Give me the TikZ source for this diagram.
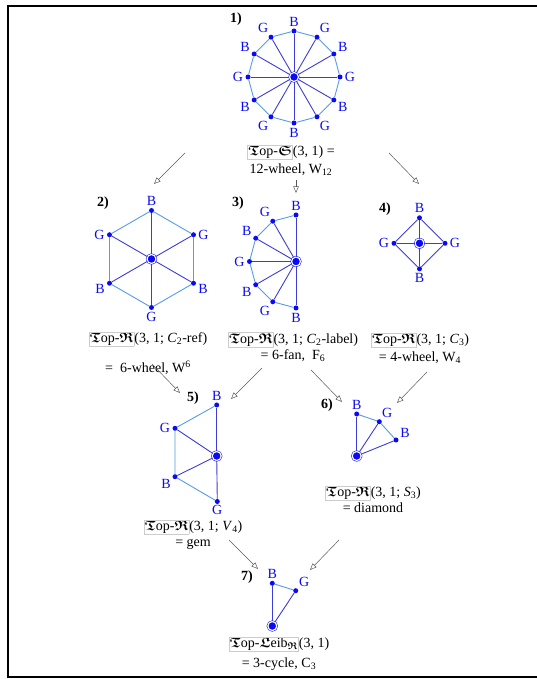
\documentclass[tikz,border=0pt]{standalone}
\usepackage{amsmath,amssymb}
\usepackage{fontspec}
\setmainfont{Liberation Serif}
\usetikzlibrary{arrows,positioning}

\definecolor{vtxblue}{RGB}{10,10,245}
\definecolor{spokeblue}{RGB}{60,60,215}
\definecolor{rimblue}{RGB}{85,155,230}
\newcommand{\frk}[1]{$\boldsymbol{\mathfrak{#1}}$}
\newcommand{\topbox}[1]{{\setlength{\fboxsep}{0.6pt}\setlength{\fboxrule}{0.5pt}\fcolorbox{gray!40}{white}{#1}}}

\begin{document}
\begin{tikzpicture}[
    x=1pt, y=1pt,
    vtx/.style={circle, fill=vtxblue, inner sep=0pt, minimum size=5pt},
    hub/.style={circle, fill=vtxblue, draw=vtxblue, inner sep=0pt, minimum size=9pt,
        line width=0.5pt, double=white, double distance=1.2pt},
    lbl/.style={text=vtxblue, font=\fontsize{14}{16}\selectfont, inner sep=0.5pt},
    every label/.style={lbl},
    label distance=1.5pt,
    spoke/.style={draw=spokeblue, line width=0.9pt},
    rim/.style={draw=rimblue, line width=0.9pt},
    num/.style={font=\fontsize{14}{16}\selectfont\bfseries},
    capt/.style={font=\fontsize{14}{16}\selectfont, align=center, inner sep=0pt},
    arr/.style={-open triangle 45, draw=black!65, line width=0.5pt}
]
\useasboundingbox (0,0) rectangle (537,679);
\draw[line width=1.1pt] (545,673) -- (8,673) -- (8,2) -- (545,2);

% 1) 12-wheel
\node[hub] (h1) at (294,602) {};
\foreach \i in {0,...,11}{
  \pgfmathsetmacro\ang{90-30*\i}
  \ifodd\i\relax\def\lab{G}\else\def\lab{B}\fi
  \node[vtx, label=\ang:\lab] (w\i) at ([shift={(\ang:46)}]h1) {};
}
\foreach \i in {0,...,11}{
  \pgfmathtruncatemacro\j{mod(\i+1,12)}
  \draw[rim] (w\i) -- (w\j);
  \draw[spoke] (h1) -- (w\i);
}
\node[num] (n1) at (236,660) {1)};
\node[capt] (c1) at (291,519) {\topbox{\frk{T}op-\frk{S}}(3, 1) =\\[2pt]12-wheel, W\textsubscript{12}};

% 2) 6-wheel
\node[hub] (h2) at (151.5,420) {};
\foreach \ang/\la/\lab [count=\i] in {90/90/B, 30/0/G, -30/-10/B, -90/-90/G, -150/190/B, 150/180/G}
  \node[vtx, label=\la:\lab] (x\i) at ([shift={(\ang:48.5)}]h2) {};
\foreach \i in {1,...,6}{
  \pgfmathtruncatemacro\j{mod(\i,6)+1}
  \draw[rim] (x\i) -- (x\j);
  \draw[spoke] (h2) -- (x\i);
}
\node[num] (n2) at (103,476) {2)};
\node[capt] (c2) at (148,326) {\topbox{\frk{T}op-\frk{R}}(3, 1; \textit{C}\textsubscript{2}-ref)\\[14pt]=\ \ 6-wheel, W\textsuperscript{6}};

% 3) 6-fan
\node[hub] (h3) at (296,417.5) {};
\foreach \ang/\lab [count=\i] in {90/B, 120/G, 150/B, 180/G, 210/B, 240/G, 270/B}
  \node[vtx, label=\ang:\lab] (f\i) at ([shift={(\ang:46.5)}]h3) {};
\foreach \i in {1,...,6}{
  \pgfmathtruncatemacro\j{\i+1}
  \draw[rim] (f\i) -- (f\j);
}
\foreach \i in {1,...,7} \draw[spoke] (h3) -- (f\i);
\node[num] (n3) at (238,476) {3)};
\node[capt] (c3) at (293,332) {\topbox{\frk{T}op-\frk{R}}(3, 1; \textit{C}\textsubscript{2}-label)\\= 6-fan,\ \ F\textsubscript{6}};

% 4) 4-wheel
\node[hub] (h4) at (419.5,435.7) {};
\foreach \ang/\lab [count=\i] in {90/B, 0/G, -90/B, 180/G}
  \node[vtx, label=\ang:\lab] (d\i) at ([shift={(\ang:25.5)}]h4) {};
\draw[spoke] (d1) -- (d2) -- (d3) -- (d4) -- (d1);
\foreach \i in {1,...,4} \draw[spoke] (h4) -- (d\i);
\node[num] (n4) at (385,470) {4)};
\node[capt] (c4) at (420,330.5) {\topbox{\frk{T}op-\frk{R}}(3, 1; \textit{C}\textsubscript{3})\\[2pt]= 4-wheel, W\textsubscript{4}};

% 5) gem
\node[hub] (h5) at (216.7,223) {};
\node[vtx, label=90:B] (g1) at (216.7,274) {};
\node[vtx, label=180:G] (g2) at (175,250.7) {};
\node[vtx, label=210:B] (g3) at (175,202.3) {};
\node[vtx, label={[label distance=0.3pt]-90:G}] (g4) at (217.3,177.5) {};
\draw[rim] (g1) -- (g2) -- (g3) -- (g4);
\foreach \i in {1,...,4} \draw[spoke] (h5) -- (g\i);
\node[num] (n5) at (193,281) {5)};
\node[capt] (c5) at (193,144.5) {\topbox{\frk{T}op-\frk{R}}(3, 1; \textit{V}\textsubscript{4})\\= gem};

% 6) diamond
\node[hub] (h6) at (356.7,223) {};
\node[vtx, label=90:B] (s1) at (356.7,265) {};
\node[vtx, label=58:G] (s2) at (379.3,257.3) {};
\node[vtx, label=32:B] (s3) at (396,239) {};
\draw[rim] (s1) -- (s2) -- (s3);
\foreach \i in {1,2,3} \draw[spoke] (h6) -- (s\i);
\node[num] (n6) at (327,274) {6)};
\node[capt] (c6) at (373,180) {\topbox{\frk{T}op-\frk{R}}(3, 1; \textit{S}\textsubscript{3})\\= diamond};

% 7) 3-cycle
\node[hub] (h7) at (272.3,53) {};
\node[vtx, label=90:B] (t1) at (272.3,95.7) {};
\node[vtx, label=50:G] (t2) at (295.7,88.3) {};
\draw[rim] (t1) -- (t2);
\draw[spoke] (h7) -- (t1);
\draw[spoke] (h7) -- (t2);
\node[num] (n7) at (247,102) {7)};
\node[capt] (c7) at (279,25.5) {\topbox{\frk{T}op-\frk{L}eib$_{\boldsymbol{\mathfrak{R}}}$}(3, 1)\\[4pt]= 3-cycle, C\textsubscript{3}};

% arrows between the steps
\coordinate (a12) at (185,526); \coordinate (b12) at (154,495);
\coordinate (a13) at (296,499); \coordinate (b13) at (296,486);
\coordinate (a14) at (389,526); \coordinate (b14) at (419,495);
\coordinate (a25) at (152,315); \coordinate (b25) at (180,286);
\coordinate (a35) at (262,311); \coordinate (b35) at (231,280);
\coordinate (a36) at (311,309); \coordinate (b36) at (342,277);
\coordinate (a46) at (427,307); \coordinate (b46) at (397,276);
\coordinate (a57) at (229,139); \coordinate (b57) at (258,110);
\coordinate (a67) at (339,139); \coordinate (b67) at (310,109);
\foreach \s in {12,13,14,25,35,36,46,57,67}
  \draw[arr] (a\s) -- (b\s);
\end{tikzpicture}
\end{document}
